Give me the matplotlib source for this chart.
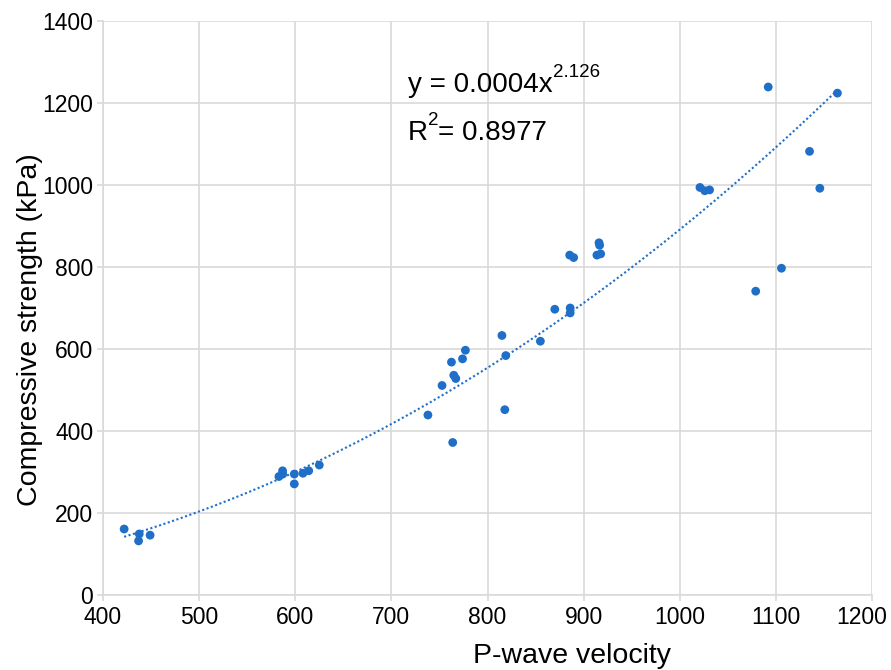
import numpy as np
import matplotlib
matplotlib.use("Agg")
import matplotlib.pyplot as plt
from matplotlib.transforms import ScaledTranslation

plt.rcParams['font.family'] = ['Liberation Sans', 'DejaVu Sans']

# P-wave velocity
velocity = [422, 437.7, 437, 449, 583, 586.8, 587, 599, 599, 608, 614, 625,
            738, 763.8, 752.7, 762.5, 764.9, 767, 774, 777, 815, 819, 818, 855,
            870, 886, 886, 885.5, 889.6, 916, 916.6, 913.8, 917.7,
            1092, 1164, 1135, 1145.7, 1021, 1026, 1031, 1105.8, 1079]
# Compressive strength (kPa)
strength = [161, 149, 132, 146, 289, 303, 295, 295, 271, 297, 303, 317,
            439, 372, 511, 568, 536, 528, 576, 597, 633, 584, 452, 619,
            697, 700, 688, 829, 823, 859, 853, 829, 832,
            1239, 1224, 1082, 992, 994, 986, 988, 797, 741]

x_ticks = [400, 500, 600, 700, 800, 900, 1000, 1100, 1200]
y_ticks = [0, 200, 400, 600, 800, 1000, 1200, 1400]

eq_main, eq_sup = 'y = 0.0004x', '2.126'
r2_main, r2_sup, r2_rest = 'R', '2', '= 0.8977'

color = '#1f6fc8'
grid_color = '#d9d9d9'

fig = plt.figure(figsize=(8.91, 6.70), dpi=100)
ax = fig.add_axes([0.1156, 0.1119, 0.8631, 0.8568])

xv = np.array(velocity)
yv = np.array(strength)
b, loga = np.polyfit(np.log(xv), np.log(yv), 1)
xs = np.linspace(xv.min(), xv.max(), 200)
ax.plot(xs, np.exp(loga) * xs ** b, linestyle=(0, (1, 1.2)), color=color, lw=1.5, zorder=2)

ax.scatter(velocity, strength, s=40, color=color, edgecolors='none', zorder=3)

ax.set_xlim(400, 1200)
ax.set_ylim(0, 1400)
ax.set_xticks(x_ticks)
ax.set_yticks(y_ticks)
ax.tick_params(axis='both', labelsize=16.5, length=4, color=grid_color, width=1.2)
ax.tick_params(axis='x', pad=4)
ax.tick_params(axis='y', pad=3)
ax.grid(True, color=grid_color, lw=1.2)
ax.set_axisbelow(True)
for s in ax.spines.values():
    s.set_visible(False)
for side in ('left', 'bottom'):
    ax.spines[side].set_visible(True)
    ax.spines[side].set_color(grid_color)
    ax.spines[side].set_linewidth(1.2)

# shift last x tick label slightly left so it fits inside the figure
lbl = ax.xaxis.get_major_ticks()[-1].label1
lbl.set_transform(lbl.get_transform() + ScaledTranslation(-0.10, 0, fig.dpi_scale_trans))

ax.set_xlabel('P-wave velocity', fontsize=20.5)
ax.xaxis.label.set_va('baseline')
ax.xaxis.set_label_coords(0.61, -0.1185)
ax.set_ylabel('Compressive strength (kPa)', fontsize=20.5)
ax.yaxis.label.set_va('baseline')
ax.yaxis.set_label_coords(-0.0862, 0.4617)

t1 = ax.text(717, 1227, eq_main, fontsize=20, va='baseline', ha='left')
ax.annotate(eq_sup, xy=(1, 1), xycoords=t1, xytext=(0.5, -4), textcoords='offset points',
            fontsize=13.5, va='baseline', ha='left')
t2 = ax.text(717, 1110, r2_main, fontsize=20, va='baseline', ha='left')
t3 = ax.annotate(r2_sup, xy=(1, 1), xycoords=t2, xytext=(0.5, -4), textcoords='offset points',
                 fontsize=13.5, va='baseline', ha='left')
ax.annotate(r2_rest, xy=(1, 0), xycoords=(t3, t2), xytext=(-0.5, 0), textcoords='offset points',
            fontsize=20, va='bottom', ha='left')

fig.savefig('out.png', dpi=100)
